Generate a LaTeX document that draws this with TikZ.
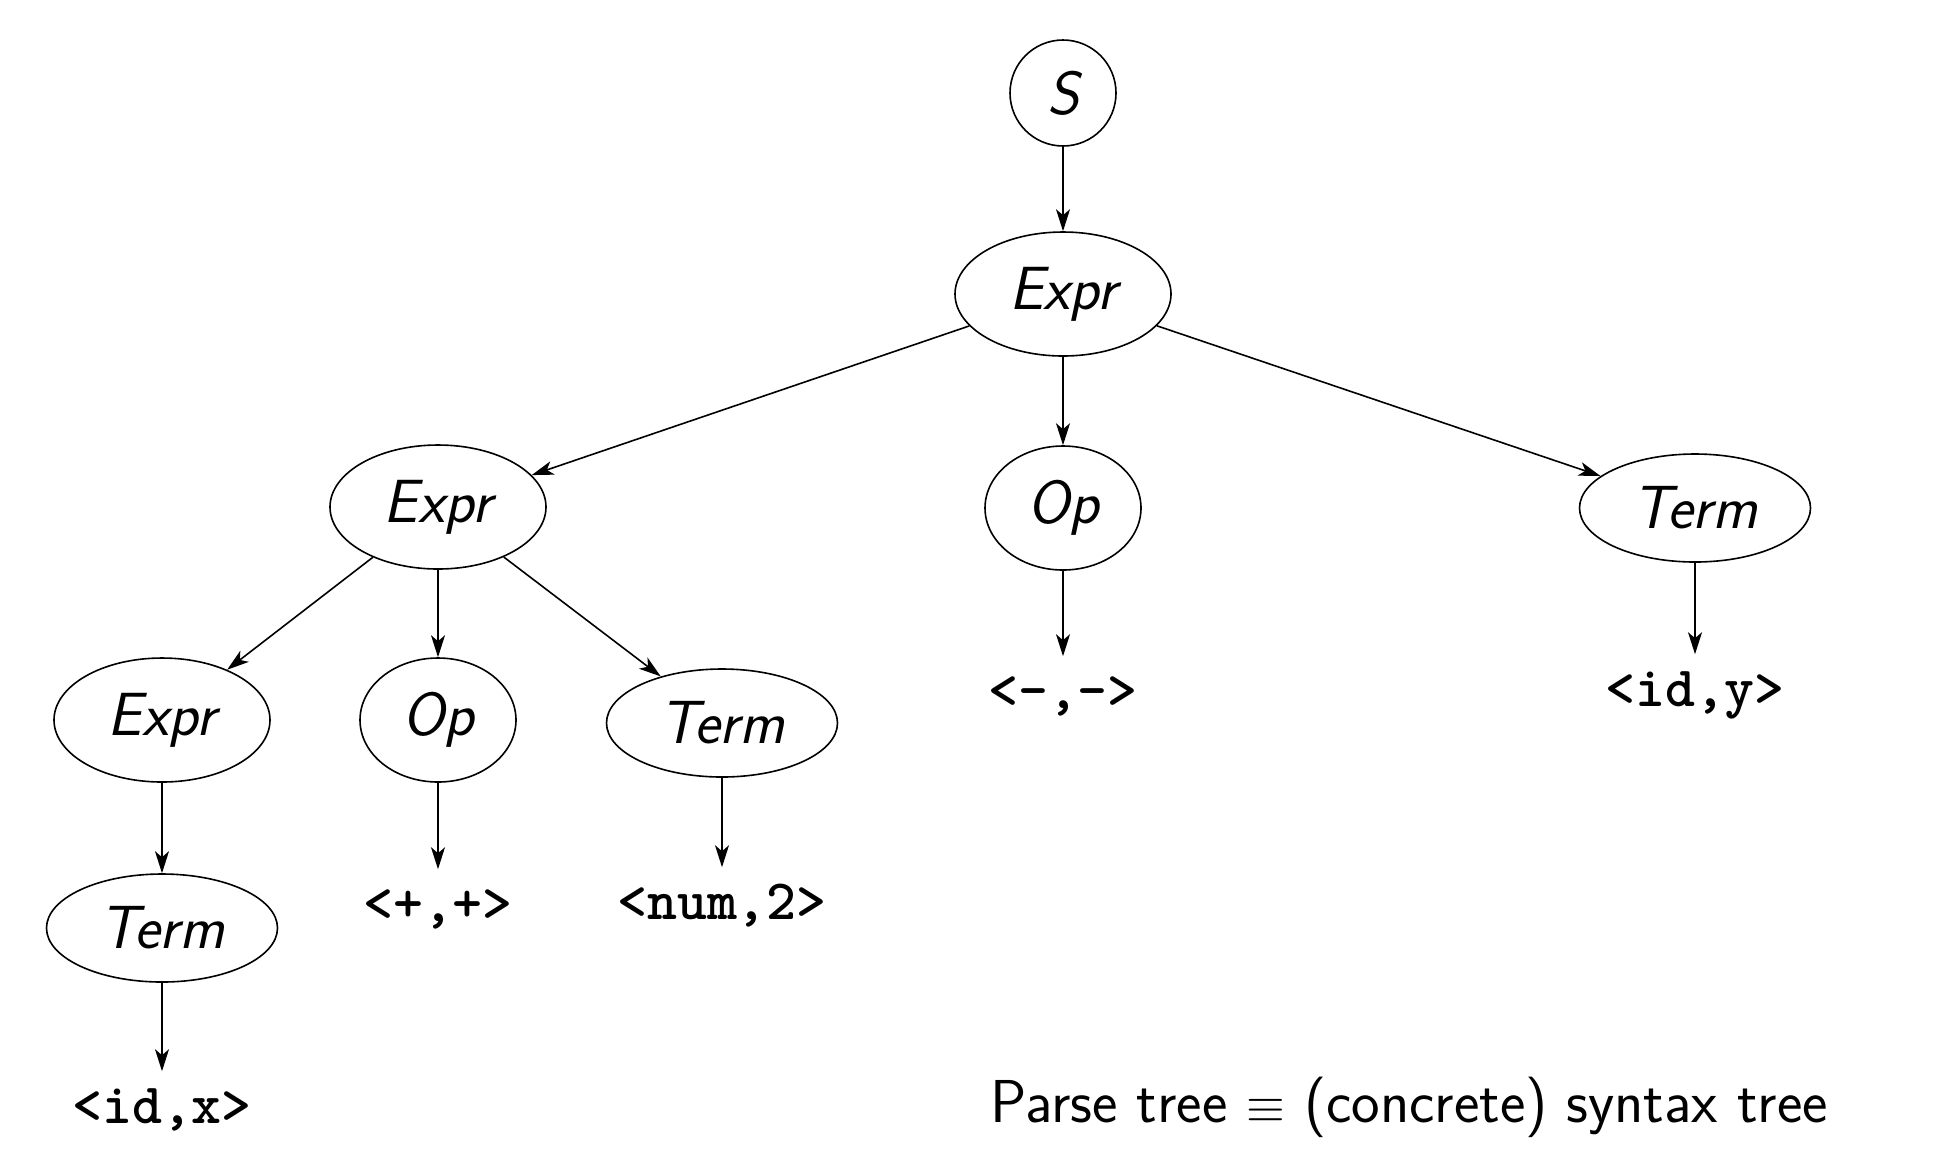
\documentclass[tikz,border=0pt]{standalone}
\usetikzlibrary{arrows.meta,shapes.geometric}
\begin{document}
\begin{tikzpicture}[x=0.5pt,y=-0.5pt, line width=0.8pt,
  every node/.style={font=\fontsize{30.3}{36}\selectfont\sffamily},
  nt/.style={draw, ellipse, inner sep=0pt, font=\fontsize{30.5}{36}\selectfont\sffamily\itshape},
  sbox/.style={nt, circle, minimum size=53pt},
  exprbox/.style={nt, minimum width=108pt, minimum height=62pt},
  opbox/.style={nt, minimum width=78pt, minimum height=62pt},
  termbox/.style={nt, minimum width=115.5pt, minimum height=54pt},
  tok/.style={font=\fontsize{28.5}{34}\selectfont\ttfamily\bfseries, inner sep=0pt, text height=0.6em, text depth=0.1em, minimum height=46pt},
  edge/.style={-{Stealth[length=11pt,width=7pt,inset=3pt]}}
]
\useasboundingbox (0,0) rectangle (1942,1164);
\node[sbox] (S) at (1063,93) {S};
\node[exprbox] (E0) at (1063,294) {Expr};
\node[exprbox] (E1) at (438,507) {Expr};
\node[opbox] (O0) at (1063,508) {Op};
\node[termbox] (T0) at (1695,508) {Term};
\node[exprbox] (E2) at (162,720) {Expr};
\node[opbox] (O1) at (438,720) {Op};
\node[termbox] (T1) at (722,723) {Term};
\node[termbox] (T2) at (162,928) {Term};
\node[tok] (tm) at (1063,703) {<-,->};
\node[tok] (ty) at (1695,701) {<id,y>};
\node[tok] (tp) at (438,916) {<+,+>};
\node[tok] (tn) at (722,914) {<num,2>};
\node[tok] (tx) at (162,1118) {<id,x>};
\node[anchor=base west, inner sep=0pt] (cap) at (990,1122) {Parse tree $\equiv$ (concrete) syntax tree};
\draw[edge] (S) -- (E0);
\draw[edge] (E0) -- (E1);
\draw[edge] (E0) -- (O0);
\draw[edge] (E0) -- (T0);
\draw[edge] (O0) -- (tm);
\draw[edge] (T0) -- (ty);
\draw[edge] (E1) -- (E2);
\draw[edge] (E1) -- (O1);
\draw[edge] (E1) -- (T1);
\draw[edge] (E2) -- (T2);
\draw[edge] (O1) -- (tp);
\draw[edge] (T1) -- (tn);
\draw[edge] (T2) -- (tx);
\end{tikzpicture}
\end{document}
